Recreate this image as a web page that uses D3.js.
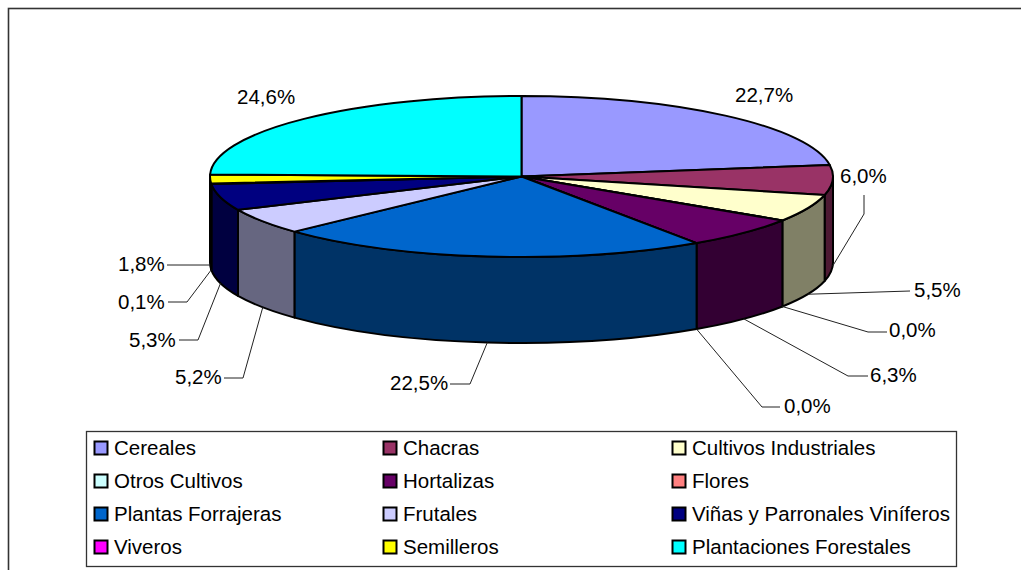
<!DOCTYPE html>
<html>
<head>
<meta charset="utf-8">
<script src="https://cdn.jsdelivr.net/npm/d3@7"></script>
<style>
html, body { margin: 0; padding: 0; background: #fff; overflow: hidden; }
text { font-family: "Liberation Sans", Arial, sans-serif; font-size: 20.5px; fill: #000; }
</style>
</head>
<body>
<div id="chart"></div>
<script>
var categories = ['Cereales', 'Chacras', 'Cultivos Industriales', 'Otros Cultivos', 'Hortalizas', 'Flores',
    'Plantas Forrajeras', 'Frutales', 'Viñas y Parronales Viníferos', 'Viveros', 'Semilleros', 'Plantaciones Forestales'];
var values = [22.7, 6.0, 5.5, 0.0, 6.3, 0.0, 22.5, 5.2, 5.3, 0.1, 1.8, 24.6];
var topColors = ['#9999ff', '#993366', '#ffffcc', '#ccffff', '#660066', '#ff8080',
    '#0066cc', '#ccccff', '#000080', '#ff00ff', '#ffff00', '#00ffff'];

// label placement: text left / baseline, then the elbow of the leader (null = no leader)
var labelX = [735, 840, 914, 889, 870, 784, 390, 175, 129, 118, 118, 237];
var labelY = [102, 183, 297, 337, 382, 413, 390, 384, 347, 309, 271, 104];
var elbows = [null, [[864, 195], [864, 214]], [[910, 291]], [[887, 332], [868, 332]], [[868, 376], [848, 376]],
    [[780, 407], [762, 407]], [[450, 384], [470, 384]], [[224, 378], [243, 378]], [[179, 340], [198, 340]],
    [[168, 302], [187, 302]], [[167, 265]], null];

var width = 1021,
    height = 570,
    cx = 521.5,
    cy = 176.5,
    rx = 311.5,
    ry = 80.5,
    depth = 86;

var svg = d3.select('#chart').append('svg')
    .attr('width', width)
    .attr('height', height)
    .style('display', 'block');

// chart area border, right and bottom edges fall off the picture
svg.append('rect')
    .attr('x', 8.5)
    .attr('y', 8.5)
    .attr('width', 1040)
    .attr('height', 600)
    .attr('fill', '#fff')
    .attr('stroke', '#333')
    .attr('stroke-width', 1.6);

var slices = d3.pie().sort(null).value(function (d) { return d; })(values);
slices.forEach(function (s, i) { s.index = i; });

function px(a) { return cx + rx * Math.sin(a); }
function py(a) { return cy - ry * Math.cos(a); }

function wallPath(s) {
    var a0 = Math.max(s.startAngle, Math.PI / 2),
        a1 = Math.min(s.endAngle, Math.PI * 1.5);
    return 'M' + px(a0) + ',' + py(a0) +
        'A' + rx + ',' + ry + ' 0 0 1 ' + px(a1) + ',' + py(a1) +
        'L' + px(a1) + ',' + (py(a1) + depth) +
        'A' + rx + ',' + ry + ' 0 0 0 ' + px(a0) + ',' + (py(a0) + depth) + 'Z';
}

// side walls only on the front half, half the brightness of the top
svg.append('g').selectAll('path')
    .data(slices.filter(function (s) {
        return s.endAngle > Math.PI / 2 && s.startAngle < Math.PI * 1.5 && s.value > 0;
    }))
    .enter().append('path')
    .attr('d', wallPath)
    .attr('fill', function (s) {
        var c = d3.rgb(topColors[s.index]);
        return d3.rgb(c.r / 2, c.g / 2, c.b / 2).formatHex();
    })
    .attr('stroke', '#000')
    .attr('stroke-width', 2)
    .attr('stroke-linejoin', 'round');

var arc = d3.arc().innerRadius(0).outerRadius(rx);

svg.append('g')
    .attr('transform', 'translate(' + cx + ',' + cy + ') scale(1,' + (ry / rx) + ')')
    .selectAll('path').data(slices)
    .enter().append('path')
    .attr('d', arc)
    .attr('fill', function (s) { return topColors[s.index]; })
    .attr('stroke', '#000')
    .attr('stroke-width', 2)
    .attr('stroke-linejoin', 'round')
    .attr('vector-effect', 'non-scaling-stroke');

// leaders start on the lower rim at the middle of each slice
var leader = d3.line();
svg.append('g').selectAll('path')
    .data(slices.filter(function (s) { return elbows[s.index]; }))
    .enter().append('path')
    .attr('d', function (s) {
        var mid = (s.startAngle + s.endAngle) / 2;
        return leader(elbows[s.index].concat([[px(mid), py(mid) + depth]]));
    })
    .attr('fill', 'none')
    .attr('stroke', '#222')
    .attr('stroke-width', 1);

svg.append('g').selectAll('text')
    .data(slices)
    .enter().append('text')
    .attr('x', function (s) { return labelX[s.index]; })
    .attr('y', function (s) { return labelY[s.index]; })
    .text(function (s) { return s.value.toFixed(1).replace('.', ',') + '%'; });

// legend
var legendCols = d3.scalePoint().domain([0, 1, 2]).range([94.5, 672.5]);
var legendRows = d3.scalePoint().domain([0, 1, 2, 3]).range([441.5, 540.5]);

svg.append('rect')
    .attr('x', 86.5)
    .attr('y', 431.5)
    .attr('width', 870)
    .attr('height', 135)
    .attr('fill', '#fff')
    .attr('stroke', '#333')
    .attr('stroke-width', 1.3);

var legendItem = svg.append('g').selectAll('g')
    .data(categories)
    .enter().append('g')
    .attr('transform', function (d, i) {
        return 'translate(' + legendCols(i % 3) + ',' + legendRows(Math.floor(i / 3)) + ')';
    });

legendItem.append('rect')
    .attr('width', 13)
    .attr('height', 13)
    .attr('fill', function (d, i) { return topColors[i]; })
    .attr('stroke', '#000')
    .attr('stroke-width', 2);

legendItem.append('text')
    .attr('x', 19.5)
    .attr('y', 13.5)
    .text(function (d) { return d; });
</script>
</body>
</html>
